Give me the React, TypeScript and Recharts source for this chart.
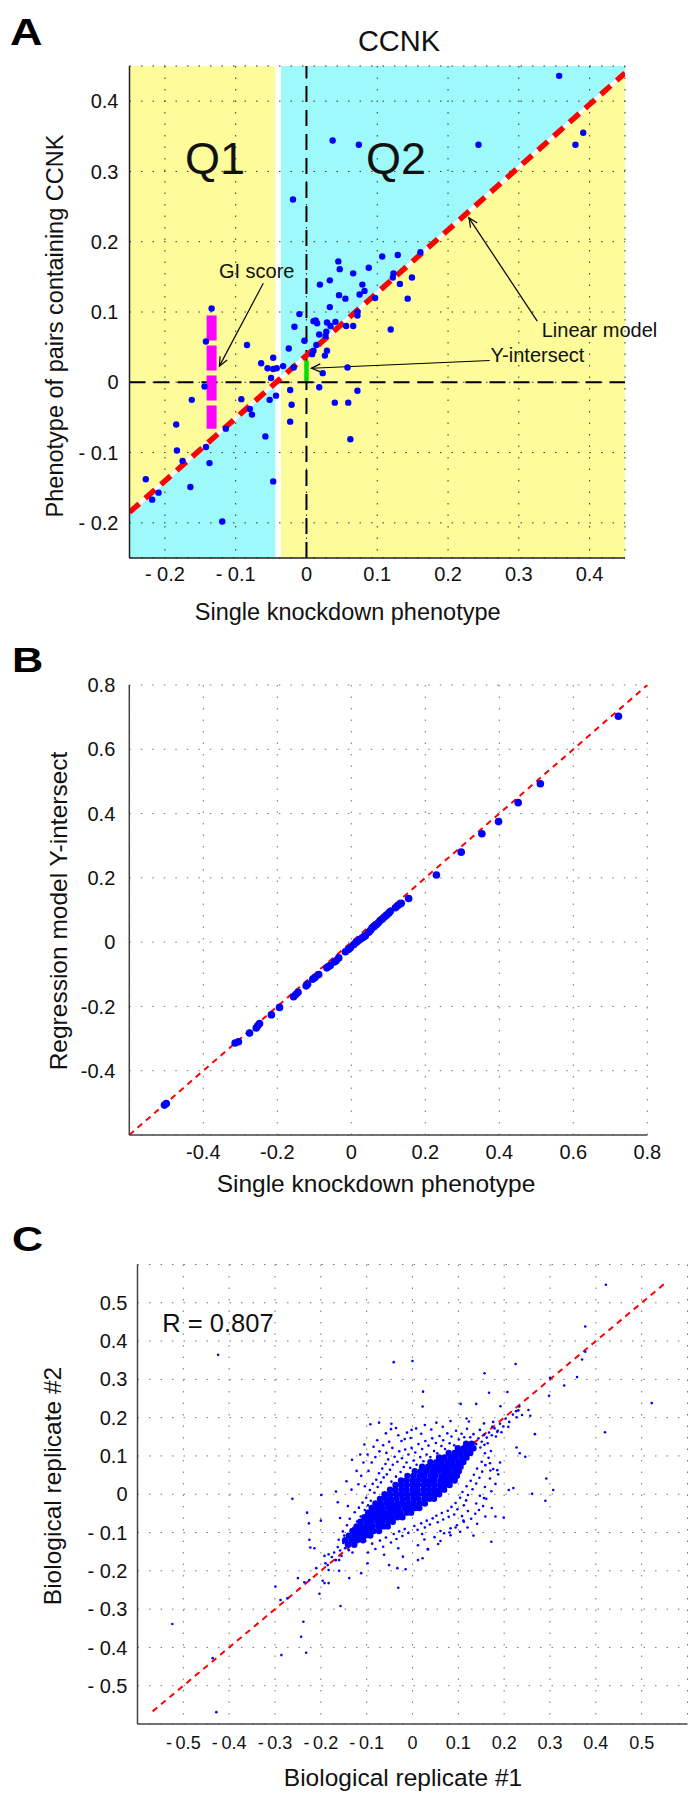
import React from 'react';
import {
  ComposedChart,
  Scatter,
  Line,
  Area,
  XAxis,
  YAxis,
  CartesianGrid,
  ReferenceLine,
} from 'recharts';

const FONT = '"Liberation Sans", Arial, Helvetica, sans-serif';
const BLUE = '#0000ff';
const RED = '#ff0000';
const YELLOW = '#fdfb9a';
const CYAN = '#9ef9fb';

// ---------- panel A : CCNK ----------
const A_TICKS = [-0.2, -0.1, 0, 0.1, 0.2, 0.3, 0.4];
const A_DOMAIN: [number, number] = [-0.25, 0.45];
const A_MODEL_X = [-0.25, 0.45];
const A_MODEL_Y = [-0.185, 0.44];
// left strip (Q1) and right strip (Q2) with the model value at their edges
const A_Q1_X = [-0.25, -0.044];
const A_Q1_LINE = [-0.185, -0.001];
const A_Q2_X = [-0.036, 0.45];
const A_Q2_LINE = [0.006, 0.44];
const A_GI_X = -0.134;
const A_GI_Y = [0.095, -0.066];
const A_INTERSECT_Y = [0.031, 0.002];
const A_ARROWS = [
  { from: [-0.061, 0.141], to: [-0.123, 0.023] },
  { from: [0.259, 0.031], to: [0.007, 0.02] },
  { from: [0.326, 0.087], to: [0.2295, 0.234] },
];
const A_POINTS: [number, number][] = [
  [0.357, 0.436], [0.391, 0.355], [0.38, 0.338], [0.243, 0.338], [0.037, 0.344], [0.074, 0.338],
  [-0.019, 0.26], [0.045, 0.172], [0.047, 0.161], [0.088, 0.163], [0.107, 0.179], [0.129, 0.181],
  [0.161, 0.185], [0.066, 0.155], [0.019, 0.139], [0.033, 0.145], [0.123, 0.155], [0.122, 0.149],
  [0.132, 0.14], [0.149, 0.149], [0.143, 0.119], [0.079, 0.139], [0.082, 0.13], [0.075, 0.125],
  [0.097, 0.12], [0.046, 0.124], [0.055, 0.119], [0.033, 0.107], [0.072, 0.1], [0.072, 0.095],
  [-0.01, 0.097], [0.01, 0.087], [0.013, 0.088], [0.015, 0.084], [0.029, 0.085], [0.034, 0.08],
  [0.041, 0.086], [0.056, 0.08], [0.066, 0.08], [-0.017, 0.079], [0.018, 0.068], [0.028, 0.072],
  [0.027, 0.066], [0.029, 0.045], [0.026, 0.038], [0.014, 0.053], [0.01, 0.045], [0.008, 0.04],
  [-0.003, 0.059], [-0.025, 0.048], [0.119, 0.075], [-0.084, 0.053], [-0.047, 0.035], [-0.064, 0.027],
  [-0.055, 0.02], [-0.047, 0.019], [-0.042, 0.02], [-0.033, 0.023], [-0.018, 0.021], [-0.05, 0.006],
  [0.058, 0.021], [0.023, 0.013], [0.018, -0.007], [-0.023, -0.011], [0.072, -0.012], [0.04, -0.029],
  [0.059, -0.029], [-0.021, -0.032], [-0.023, -0.056], [-0.092, -0.024], [-0.052, -0.025], [-0.043, -0.019],
  [-0.08, -0.038], [-0.077, -0.046], [-0.058, -0.077], [0.062, -0.081], [-0.047, -0.141], [-0.134, 0.105],
  [-0.142, 0.058], [-0.162, -0.025], [-0.144, -0.006], [-0.184, -0.06], [-0.183, -0.097], [-0.175, -0.112],
  [-0.114, -0.066], [-0.142, -0.092], [-0.137, -0.115], [-0.227, -0.138], [-0.209, -0.157], [-0.218, -0.167],
  [-0.164, -0.149], [-0.119, -0.198],
];

// ---------- panel B ----------
const B_TICKS = [-0.4, -0.2, 0, 0.2, 0.4, 0.6, 0.8];
const B_DOMAIN: [number, number] = [-0.6, 0.8];
const B_DIAG = [-0.6, 0.8];
const B_POINTS: [number, number][] = [
  [-0.505, -0.507], [-0.5, -0.502], [-0.314, -0.314], [-0.305, -0.31], [-0.275, -0.283], [-0.257, -0.267],
  [-0.248, -0.253], [-0.253, -0.26], [-0.216, -0.226], [-0.194, -0.203], [-0.156, -0.17], [-0.15, -0.163],
  [-0.144, -0.156], [-0.122, -0.136], [-0.118, -0.13], [-0.104, -0.115], [-0.098, -0.11], [-0.088, -0.101],
  [-0.066, -0.08], [-0.062, -0.076], [-0.057, -0.073], [-0.046, -0.062], [-0.041, -0.058], [-0.034, -0.049],
  [-0.016, -0.03], [-0.008, -0.023], [-0.003, -0.018], [0.006, -0.008], [0.012, -0.002], [0.017, 0.003],
  [0.023, 0.008], [0.029, 0.013], [0.034, 0.017], [0.038, 0.02], [0.047, 0.031], [0.052, 0.037],
  [0.056, 0.044], [0.062, 0.049], [0.068, 0.055], [0.073, 0.06], [0.078, 0.067], [0.084, 0.072],
  [0.09, 0.079], [0.095, 0.084], [0.101, 0.09], [0.105, 0.095], [0.119, 0.107], [0.125, 0.113],
  [0.132, 0.119], [0.135, 0.121], [0.155, 0.136], [0.23, 0.209], [0.297, 0.28], [0.353, 0.337],
  [0.398, 0.375], [0.451, 0.434], [0.511, 0.493], [0.722, 0.703],
];

// ---------- panel C ----------
const C_TICKS = [-0.5, -0.4, -0.3, -0.2, -0.1, 0, 0.1, 0.2, 0.3, 0.4, 0.5];
const C_DOMAIN: [number, number] = [-0.6, 0.6];
const C_DIAG = [-0.567, 0.549];
// dense centre of the cloud, one row per y level
const C_CORE_Y = [
  -0.132, -0.12, -0.108, -0.096, -0.084, -0.072, -0.06, -0.048, -0.036, -0.024, -0.012, 0,
  0.012, 0.024, 0.036, 0.048, 0.06, 0.072, 0.084, 0.096, 0.108, 0.12, 0.132,
];
const C_CORE_X = [
  [-0.141, -0.127],
  [-0.147, -0.133, -0.121, -0.108],
  [-0.139, -0.126, -0.115, -0.103, -0.092],
  [-0.131, -0.119, -0.108, -0.096, -0.085, -0.073],
  [-0.122, -0.11, -0.099, -0.087, -0.074, -0.063, -0.054],
  [-0.114, -0.101, -0.09, -0.077, -0.066, -0.053, -0.043],
  [-0.105, -0.093, -0.081, -0.069, -0.057, -0.045, -0.033, -0.022],
  [-0.097, -0.086, -0.073, -0.062, -0.049, -0.038, -0.026, -0.013, -0.003],
  [-0.089, -0.077, -0.066, -0.053, -0.041, -0.03, -0.017, -0.006, 0.006, 0.015],
  [-0.081, -0.069, -0.056, -0.045, -0.032, -0.021, -0.008, 0.003, 0.016, 0.027],
  [-0.071, -0.059, -0.047, -0.035, -0.022, -0.011, 0.002, 0.013, 0.026, 0.037, 0.047],
  [-0.061, -0.049, -0.036, -0.025, -0.012, 0.001, 0.012, 0.025, 0.036, 0.049, 0.058],
  [-0.049, -0.037, -0.024, -0.013, 0, 0.011, 0.024, 0.036, 0.047, 0.06, 0.069],
  [-0.037, -0.025, -0.012, 0.001, 0.012, 0.025, 0.036, 0.049, 0.06, 0.071, 0.081],
  [-0.025, -0.013, 0, 0.012, 0.025, 0.037, 0.048, 0.061, 0.072, 0.083, 0.092],
  [-0.011, 0.002, 0.015, 0.026, 0.039, 0.05, 0.063, 0.074, 0.086, 0.097],
  [0.005, 0.018, 0.03, 0.043, 0.054, 0.067, 0.078, 0.091, 0.101],
  [0.021, 0.034, 0.047, 0.058, 0.071, 0.082, 0.095, 0.105],
  [0.039, 0.052, 0.064, 0.077, 0.088, 0.101, 0.111],
  [0.058, 0.07, 0.083, 0.094, 0.107, 0.118],
  [0.079, 0.092, 0.104, 0.117, 0.126],
  [0.099, 0.112, 0.124, 0.133],
  [0.117, 0.129],
];
// scattered dots around the centre
const C_HALO: [number, number][] = [
  [-0.152, -0.097], [-0.143, -0.081], [-0.137, -0.064], [-0.129, -0.088], [-0.126, -0.047], [-0.121, -0.071],
  [-0.117, -0.035], [-0.113, -0.058], [-0.109, -0.022], [-0.104, -0.041], [-0.101, -0.009], [-0.097, -0.029],
  [-0.093, 0.011], [-0.091, -0.017], [-0.087, 0.027], [-0.083, 0.004], [-0.079, 0.038], [-0.076, 0.019],
  [-0.073, 0.055], [-0.069, 0.031], [-0.066, 0.067], [-0.063, 0.044], [-0.059, 0.079], [-0.056, 0.052],
  [-0.053, 0.091], [-0.049, 0.064], [-0.046, 0.033], [-0.043, 0.077], [-0.039, 0.098], [-0.036, 0.046],
  [-0.033, 0.085], [-0.029, 0.112], [-0.026, 0.058], [-0.023, 0.094], [-0.019, 0.071], [-0.016, 0.117],
  [-0.013, 0.083], [-0.009, 0.104], [-0.005, 0.069], [-0.002, 0.121], [0.003, 0.088], [0.006, 0.109],
  [0.009, 0.077], [0.013, 0.131], [0.017, 0.097], [0.021, 0.118], [0.024, 0.086], [0.028, 0.139],
  [0.031, 0.104], [0.035, 0.127], [0.039, 0.097], [0.043, 0.146], [0.047, 0.113], [0.051, 0.134],
  [0.054, 0.107], [0.059, 0.152], [0.063, 0.126], [0.067, 0.141], [0.071, 0.118], [0.076, 0.159],
  [0.081, 0.133], [0.085, 0.151], [0.091, 0.128], [0.095, 0.166], [0.101, 0.143], [0.107, 0.158],
  [0.113, 0.149], [0.119, 0.171],
  [-0.158, -0.062], [-0.141, -0.031], [-0.133, 0.012], [-0.118, 0.026], [-0.112, 0.048], [-0.104, 0.021],
  [-0.096, 0.061], [-0.089, 0.083], [-0.081, 0.097], [-0.072, 0.112], [-0.064, 0.128], [-0.057, 0.108],
  [-0.051, 0.137], [-0.044, 0.121], [-0.031, 0.154], [-0.024, 0.139], [-0.012, 0.161], [-0.004, 0.147],
  [0.008, 0.172], [0.019, 0.158], [0.027, 0.181], [0.041, 0.169], [0.052, 0.187], [0.066, 0.176],
  [0.083, 0.191], [-0.122, 0.061], [-0.098, 0.104], [-0.077, 0.141], [-0.058, 0.159], [-0.036, 0.173],
  [-0.107, 0.083], [-0.144, 0.034], [-0.163, -0.021],
  [-0.097, -0.152], [-0.081, -0.143], [-0.064, -0.137], [-0.088, -0.129], [-0.047, -0.126], [-0.071, -0.121],
  [-0.035, -0.117], [-0.058, -0.113], [-0.022, -0.109], [-0.041, -0.104], [-0.009, -0.101], [-0.029, -0.097],
  [0.011, -0.093], [-0.017, -0.091], [0.027, -0.087], [0.004, -0.083], [0.038, -0.079], [0.019, -0.076],
  [0.055, -0.073], [0.031, -0.069], [0.067, -0.066], [0.044, -0.063], [0.079, -0.059], [0.052, -0.056],
  [0.091, -0.053], [0.064, -0.049], [0.077, -0.043], [0.098, -0.039], [0.085, -0.033], [0.112, -0.029],
  [0.094, -0.023], [0.117, -0.016], [0.104, -0.009], [0.121, -0.002], [0.109, 0.006], [0.131, 0.013],
  [0.118, 0.021], [0.139, 0.028], [0.127, 0.035], [0.146, 0.043], [0.134, 0.051], [0.152, 0.059],
  [0.141, 0.067], [0.159, 0.076], [0.151, 0.085], [0.166, 0.095], [0.158, 0.107], [0.171, 0.113],
  [-0.062, -0.158], [-0.031, -0.141], [0.012, -0.133], [0.026, -0.118], [0.048, -0.112], [0.021, -0.104],
  [0.061, -0.096], [0.083, -0.089], [0.097, -0.081], [0.112, -0.072], [0.128, -0.064], [0.108, -0.057],
  [0.137, -0.051], [0.121, -0.044], [0.154, -0.031], [0.139, -0.024], [0.161, -0.012], [0.147, -0.004],
  [0.172, 0.008], [0.158, 0.019], [0.181, 0.027], [0.169, 0.041], [0.187, 0.052], [0.176, 0.066],
  [0.191, 0.083], [0.061, -0.122], [0.104, -0.098], [0.141, -0.077], [0.159, -0.058], [0.173, -0.036],
  [0.083, -0.107], [0.034, -0.144], [-0.021, -0.163],
  [-0.171, -0.152], [-0.163, -0.138], [-0.158, -0.147], [-0.151, -0.127], [-0.147, -0.141], [-0.142, -0.119],
  [-0.136, -0.131], [-0.161, -0.119], [-0.176, -0.164], [-0.168, -0.172], [-0.183, -0.157], [-0.155, -0.161],
  [-0.149, -0.108], [-0.139, -0.146], [-0.131, -0.152],
  [0.139, 0.131], [0.144, 0.146], [0.151, 0.137], [0.156, 0.155], [0.162, 0.148], [0.167, 0.161],
  [0.173, 0.154], [0.179, 0.172], [0.186, 0.166], [0.191, 0.184], [0.198, 0.177], [0.203, 0.197],
  [0.211, 0.189], [0.219, 0.208], [0.227, 0.201], [0.231, 0.219], [0.148, 0.122], [0.157, 0.129],
  [0.133, 0.157], [0.126, 0.149], [0.164, 0.133], [0.182, 0.151], [0.176, 0.189], [0.194, 0.162],
];
const C_OUTLIERS: [number, number][] = [
  [-0.424, 0.364], [-0.041, 0.345], [0, 0.348], [0.023, 0.268], [0.022, 0.229], [-0.092, 0.183],
  [-0.073, 0.187], [-0.046, 0.184], [-0.047, 0.17], [-0.002, 0.168], [-0.017, 0.144], [-0.105, 0.13],
  [-0.085, 0.124], [-0.132, 0.09], [-0.114, 0.104], [-0.262, -0.012], [-0.199, -0.002], [-0.167, 0.007],
  [-0.23, -0.048], [-0.226, -0.076], [-0.225, -0.119], [-0.223, -0.139], [-0.214, -0.141], [-0.2, -0.069],
  [-0.192, -0.161], [-0.19, -0.18], [-0.183, -0.198], [-0.21, -0.193], [-0.196, -0.226], [-0.183, -0.232],
  [-0.25, -0.219], [-0.236, -0.23], [-0.225, -0.224], [-0.299, -0.241], [-0.288, -0.276], [-0.273, -0.272],
  [-0.203, -0.26], [-0.157, -0.292], [-0.238, -0.333], [-0.243, -0.372], [-0.232, -0.414], [-0.286, -0.42],
  [-0.436, -0.428], [-0.524, -0.339], [-0.428, -0.569], [-0.138, -0.219], [-0.112, -0.206], [-0.098, -0.18],
  [-0.051, -0.185], [-0.033, -0.193], [-0.031, -0.244], [-0.015, -0.196], [-0.16, -0.2], [-0.167, -0.172],
  [-0.16, -0.172], [-0.185, -0.185], [-0.192, -0.232], [0.012, -0.172], [0.022, -0.167], [0.033, -0.143],
  [0.422, 0.547], [0.377, 0.438], [0.377, 0.372], [0.37, 0.352], [0.359, 0.306], [0.331, 0.284],
  [0.3, 0.304], [0.298, 0.257], [0.225, 0.34], [0.157, 0.316], [0.167, 0.265], [0.207, 0.267],
  [0.139, 0.236], [0.105, 0.236], [0.522, 0.238], [0.42, 0.162], [0.267, 0.157], [0.246, 0.098],
  [0.234, 0.107], [0.227, 0.122], [0.292, 0.041], [0.29, -0.017], [0.307, 0.011], [0.261, 0.001],
  [0.21, 0.011], [0.22, 0.016], [0.181, -0.058], [0.199, -0.061], [0.172, -0.124], [0.133, -0.108],
  [0.056, -0.13], [0.069, -0.102], [0.081, -0.1], [0.094, -0.087], [0.12, -0.087], [0.111, -0.069],
  [0.156, -0.01], [0.145, -0.041], [0.185, 0.063], [0.169, 0.081], [0.17, 0.062], [0.233, 0.229],
  [0.253, 0.22], [0.257, 0.205], [0.239, 0.207], [0.226, 0.217], [0.192, 0.23], [0.209, 0.176],
  [0.185, 0.163], [0.174, 0.176], [0.156, 0.185], [0.147, 0.168], [0.123, 0.19], [0.118, 0.198],
];

const toXY = (pts: [number, number][]) => pts.map(([x, y]) => ({ x, y }));
const spaced = (v: number) => (v === 0 ? '0' : v < 0 ? `- ${Math.abs(v)}` : `${v}`);
const thin = (v: number) => (v === 0 ? '0' : v < 0 ? `-\u2009${Math.abs(v)}` : `${v}`);
const plain = (v: number) => (v === 0 ? '0' : `${v}`);

const dot = (r: number) => (p: any) => <circle cx={p.cx} cy={p.cy} r={r} fill={BLUE} />;

const arrowShape = (p: any) => {
  const { x1, y1, x2, y2 } = p;
  const a = Math.atan2(y2 - y1, x2 - x1);
  const bx = x2 - 9 * Math.cos(a);
  const by = y2 - 9 * Math.sin(a);
  const nx = -Math.sin(a) * 4;
  const ny = Math.cos(a) * 4;
  return (
    <g>
      <line x1={x1} y1={y1} x2={x2} y2={y2} stroke="#000" strokeWidth={1.2} />
      <polyline
        points={`${bx + nx},${by + ny} ${x2},${y2} ${bx - nx},${by - ny}`}
        fill="none"
        stroke="#000"
        strokeWidth={1.2}
      />
    </g>
  );
};

const tick = (size: number) => ({ fontSize: size, fill: '#111', fontFamily: FONT });
// axes take a fixed 60px (y) / 40px (x) band, margins are reduced by that amount
const YW = 60;
const XH = 40;

function PanelA() {
  const q1Top = A_Q1_X.map((x, i) => ({ x, band: [A_Q1_LINE[i], A_DOMAIN[1]] }));
  const q1Bottom = A_Q1_X.map((x, i) => ({ x, band: [A_DOMAIN[0], A_Q1_LINE[i]] }));
  const q2Top = A_Q2_X.map((x, i) => ({ x, band: [A_Q2_LINE[i], A_DOMAIN[1]] }));
  const q2Bottom = A_Q2_X.map((x, i) => ({ x, band: [A_DOMAIN[0], A_Q2_LINE[i]] }));
  const model = A_MODEL_X.map((x, i) => ({ x, y: A_MODEL_Y[i] }));
  const gi = A_GI_Y.map((y) => ({ x: A_GI_X, y }));
  const intersect = A_INTERSECT_Y.map((y) => ({ x: 0, y }));
  return (
    <ComposedChart width={688} height={640} margin={{ top: 66, right: 63, bottom: 82 - XH, left: 129.5 - YW }}>
      <XAxis
        type="number"
        dataKey="x"
        domain={A_DOMAIN}
        ticks={A_TICKS}
        allowDataOverflow
        interval={0}
        height={XH}
        tickSize={6}
        tickMargin={3}
        tickLine={false}
        axisLine={{ stroke: '#222', strokeWidth: 1.5 }}
        tick={tick(20)}
        tickFormatter={spaced}
      />
      <YAxis
        type="number"
        domain={A_DOMAIN}
        ticks={A_TICKS}
        allowDataOverflow
        interval={0}
        width={YW}
        tickSize={8}
        tickMargin={3}
        tickLine={false}
        axisLine={{ stroke: '#222', strokeWidth: 1.5 }}
        tick={tick(20)}
        tickFormatter={spaced}
      />
      <Area data={q1Top} dataKey="band" type="linear" fill={YELLOW} fillOpacity={1} stroke="none" isAnimationActive={false} />
      <Area data={q1Bottom} dataKey="band" type="linear" fill={CYAN} fillOpacity={1} stroke="none" isAnimationActive={false} />
      <Area data={q2Top} dataKey="band" type="linear" fill={CYAN} fillOpacity={1} stroke="none" isAnimationActive={false} />
      <Area data={q2Bottom} dataKey="band" type="linear" fill={YELLOW} fillOpacity={1} stroke="none" isAnimationActive={false} />
      <CartesianGrid stroke="#333" strokeDasharray="1.5 10" zIndex={150} />
      <ReferenceLine x={0} stroke="#000" strokeWidth={2} strokeDasharray="16 8" />
      <ReferenceLine y={0} stroke="#000" strokeWidth={2} strokeDasharray="16 8" />
      <Line data={model} dataKey="y" type="linear" stroke="#fff" strokeWidth={3.5} dot={false} isAnimationActive={false} />
      <Line data={model} dataKey="y" type="linear" stroke={RED} strokeWidth={5.5} strokeDasharray="13 8" dot={false} isAnimationActive={false} />
      <Line data={gi} dataKey="y" type="linear" stroke="#ff00ff" strokeWidth={10} strokeDasharray="25 5" dot={false} isAnimationActive={false} />
      <Line data={intersect} dataKey="y" type="linear" stroke="#00e000" strokeWidth={4.5} dot={false} isAnimationActive={false} />
      <Scatter data={toXY(A_POINTS)} dataKey="y" shape={dot(3.2)} isAnimationActive={false} />
      {A_ARROWS.map((a, i) => (
        <ReferenceLine
          key={i}
          segment={[
            { x: a.from[0], y: a.from[1] },
            { x: a.to[0], y: a.to[1] },
          ]}
          shape={arrowShape}
        />
      ))}
    </ComposedChart>
  );
}

function PanelB() {
  const diag = B_DIAG.map((v) => ({ x: v, y: v }));
  return (
    <ComposedChart width={688} height={560} margin={{ top: 45, right: 40.7, bottom: 65 - XH, left: 129.3 - YW }}>
      <XAxis
        type="number"
        dataKey="x"
        domain={B_DOMAIN}
        ticks={B_TICKS}
        allowDataOverflow
        interval={0}
        height={XH}
        tickSize={7}
        tickMargin={3}
        tickLine={false}
        axisLine={{ stroke: '#444', strokeWidth: 1.5 }}
        tick={tick(20)}
        tickFormatter={plain}
      />
      <YAxis
        type="number"
        domain={B_DOMAIN}
        ticks={B_TICKS}
        allowDataOverflow
        interval={0}
        width={YW}
        tickSize={11}
        tickMargin={3}
        tickLine={false}
        axisLine={{ stroke: '#444', strokeWidth: 1.5 }}
        tick={tick(20)}
        tickFormatter={plain}
      />
      <CartesianGrid stroke="#777" strokeDasharray="1.5 10" />
      <Line data={diag} dataKey="y" type="linear" stroke={RED} strokeWidth={2} strokeDasharray="6 5" dot={false} isAnimationActive={false} />
      <Scatter data={toXY(B_POINTS)} dataKey="y" shape={dot(3.8)} isAnimationActive={false} />
    </ComposedChart>
  );
}

function PanelC() {
  const diag = C_DIAG.map((v) => ({ x: v, y: v }));
  const core = C_CORE_Y.flatMap((y, i) => C_CORE_X[i].map((x) => ({ x, y })));
  return (
    <ComposedChart width={688} height={596} margin={{ top: 64.5, right: 0.5, bottom: 72 - XH, left: 137.5 - YW }}>
      <XAxis
        type="number"
        dataKey="x"
        domain={C_DOMAIN}
        ticks={C_TICKS}
        allowDataOverflow
        interval={0}
        height={XH}
        tickSize={9}
        tickMargin={3}
        tickLine={false}
        axisLine={{ stroke: '#444', strokeWidth: 1.5 }}
        tick={tick(18)}
        tickFormatter={thin}
      />
      <YAxis
        type="number"
        domain={C_DOMAIN}
        ticks={C_TICKS}
        allowDataOverflow
        interval={0}
        width={YW}
        tickSize={7}
        tickMargin={3}
        tickLine={false}
        axisLine={{ stroke: '#444', strokeWidth: 1.5 }}
        tick={tick(20)}
        tickFormatter={spaced}
      />
      <CartesianGrid stroke="#777" strokeDasharray="1.5 10" />
      <Scatter data={core} dataKey="y" shape={dot(3.2)} isAnimationActive={false} />
      <Scatter data={toXY(C_HALO)} dataKey="y" shape={dot(1.3)} isAnimationActive={false} />
      <Scatter data={toXY(C_OUTLIERS)} dataKey="y" shape={dot(1.3)} isAnimationActive={false} />
      <Line data={diag} dataKey="y" type="linear" stroke={RED} strokeWidth={2} strokeDasharray="6 5" dot={false} isAnimationActive={false} />
    </ComposedChart>
  );
}

export default function App() {
  const t = { fontFamily: FONT, fill: '#111' };
  return (
    <div style={{ position: 'absolute', left: 0, top: 0, width: 688, height: 1796, background: '#fff', overflow: 'hidden' }}>
      <div style={{ position: 'absolute', left: 0, top: 0 }}>
        <PanelA />
      </div>
      <div style={{ position: 'absolute', left: 0, top: 640 }}>
        <PanelB />
      </div>
      <div style={{ position: 'absolute', left: 0, top: 1200 }}>
        <PanelC />
      </div>
      <svg width={688} height={1796} style={{ position: 'absolute', left: 0, top: 0, pointerEvents: 'none' }}>
        {/* panel letters */}
        <text x={10} y={45.5} fontSize={36} fontWeight="bold" {...t} fill="#000" transform="translate(10 45.5) scale(1.25 1) translate(-10 -45.5)">A</text>
        <text x={12} y={672} fontSize={36} fontWeight="bold" {...t} fill="#000" transform="translate(12 672) scale(1.2 1) translate(-12 -672)">B</text>
        <text x={12} y={1251} fontSize={36} fontWeight="bold" {...t} fill="#000" transform="translate(12 1251) scale(1.2 1) translate(-12 -1251)">C</text>

        {/* panel A texts */}
        <text x={399} y={51} fontSize={29} textAnchor="middle" {...t}>CCNK</text>
        <text x={215} y={174} fontSize={45} textAnchor="middle" {...t}>Q1</text>
        <text x={396} y={174} fontSize={45} textAnchor="middle" {...t}>Q2</text>
        <text x={256.7} y={278} fontSize={20} textAnchor="middle" {...t}>GI score</text>
        <text x={490.6} y={362} fontSize={20} {...t}>Y-intersect</text>
        <text x={541.7} y={336.5} fontSize={20} {...t}>Linear model</text>
        <text x={347.7} y={620} fontSize={23.5} textAnchor="middle" {...t}>Single knockdown phenotype</text>
        <text x={63} y={326} fontSize={23.5} textAnchor="middle" transform="rotate(-90 63 326)" {...t}>Phenotype of pairs containing CCNK</text>

        {/* panel B texts */}
        <text x={376} y={1191.5} fontSize={24.5} textAnchor="middle" {...t}>Single knockdown phenotype</text>
        <text x={67.4} y={911} fontSize={24.5} textAnchor="middle" transform="rotate(-90 67.4 911)" {...t}>Regression model Y-intersect</text>

        {/* panel C texts */}
        <text x={162.3} y={1332} fontSize={25.5} {...t}>R = 0.807</text>
        <text x={403} y={1786} fontSize={24.5} textAnchor="middle" {...t}>Biological replicate #1</text>
        <text x={61} y={1486} fontSize={24.5} textAnchor="middle" transform="rotate(-90 61 1486)" {...t}>Biological replicate #2</text>
      </svg>
    </div>
  );
}
